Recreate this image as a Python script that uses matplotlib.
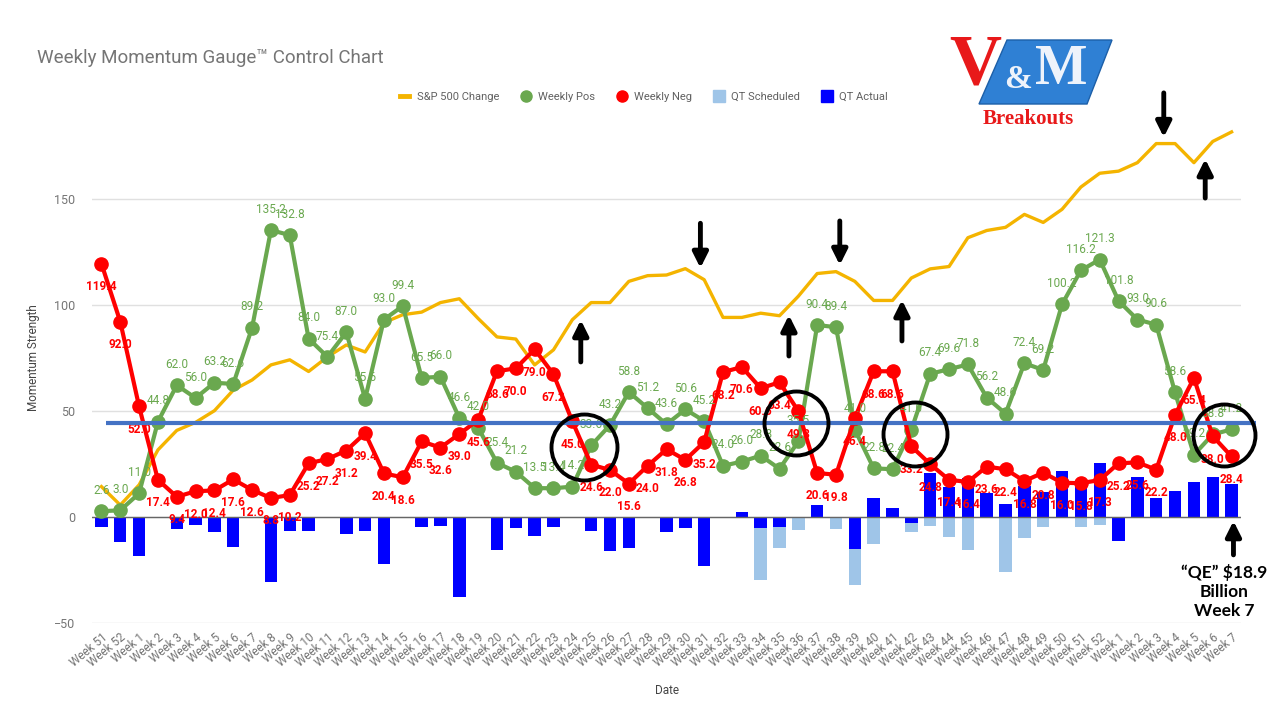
import numpy as np
import matplotlib
matplotlib.use("Agg")
import matplotlib.pyplot as plt
from matplotlib.lines import Line2D
from matplotlib.patches import Polygon

plt.rcParams['font.family'] = ['Roboto', 'DejaVu Sans']

weeks = (["Week 51", "Week 52"] + [f"Week {i}" for i in range(1, 53)]
         + [f"Week {i}" for i in range(1, 8)])

weekly_pos = [2.6, 3.0, 11.0, 44.8, 62.0, 56.0, 63.2, 62.6, 89.2, 135.2,
              132.8, 84.0, 75.4, 87.0, 55.6, 93.0, 99.4, 65.5, 66.0, 46.6,
              42.0, 25.4, 21.2, 13.5, 13.4, 14.2, 33.6, 43.2, 58.8, 51.2,
              43.6, 50.6, 45.2, 24.0, 26.0, 28.8, 22.6, 35.5, 90.4, 89.4,
              41.0, 22.8, 22.4, 41.0, 67.4, 69.6, 71.8, 56.2, 48.6, 72.4,
              69.2, 100.2, 116.2, 121.3, 101.8, 93.0, 90.6, 58.6, 29.2, 38.8,
              41.2]

weekly_neg = [119.4, 92.0, 52.0, 17.4, 9.4, 12.0, 12.4, 17.6, 12.6, 8.8,
              10.2, 25.2, 27.2, 31.2, 39.4, 20.4, 18.6, 35.5, 32.6, 39.0,
              45.6, 68.6, 70.0, 79.0, 67.2, 45.0, 24.6, 22.0, 15.6, 24.0,
              31.8, 26.8, 35.2, 68.2, 70.6, 60.6, 63.4, 49.8, 20.6, 19.8,
              46.4, 68.6, 68.6, 33.2, 24.8, 17.4, 16.4, 23.6, 22.4, 16.8,
              20.8, 16.0, 15.8, 17.3, 25.2, 25.6, 22.2, 48.0, 65.4, 38.0,
              28.4]

sp500_change = [14.2, 5.5, 15.0, 31.5, 40.7, 44.5, 50.0, 59.7, 64.5, 71.6,
                74.0, 68.5, 75.4, 81.0, 77.7, 91.5, 95.3, 96.5, 101.0, 102.8,
                93.5, 84.8, 83.8, 71.6, 78.7, 92.9, 101.0, 101.0, 111.0, 113.7,
                114.0, 117.0, 111.8, 94.0, 94.0, 96.0, 94.8, 104.0, 114.7, 115.6,
                111.0, 102.0, 102.0, 112.6, 116.9, 118.0, 131.6, 135.0, 136.5, 142.6,
                138.8, 145.0, 155.5, 162.0, 163.0, 167.0, 176.0, 176.0, 167.0, 177.0,
                181.5]

qt_actual = [-5.0, -11.8, -18.5, 0, -6.0, -4.1, -7.4, -14.5, 0, -30.8,
             -6.9, -6.9, 0, -8.2, -6.9, -22.3, 0, -5.0, -4.6, -37.7,
             0, -15.9, -5.5, -9.1, -5.0, 0, -6.9, -16.4, -14.9, 0,
             -7.4, -5.5, -23.3, 0, 2.0, -5.5, -5.0, 0, 5.5, 0,
             -15.4, 9.0, 3.9, -2.8, 20.5, 14.2, 18.4, 11.0, 5.8, 14.7,
             11.8, 21.7, 15.7, 25.2, -11.3, 18.6, 9.0, 12.3, 16.5, 18.6,
             15.4]

qt_scheduled = [0, 0, 0, 0, 0, 0, 0, 0, 0, 0,
                0, 0, 0, 0, 0, 0, 0, 0, 0, 0,
                0, 0, 0, 0, 0, 0, 0, 0, 0, 0,
                0, 0, 0, 0, 0, -29.9, -14.9, -6.3, 0, -5.8,
                -32.2, -12.9, 0, -7.2, -4.6, -9.4, -15.7, 0, -25.9, -10.2,
                -5.0, 0, -5.0, -3.9, 0, 0, 0, 0, 0, 0,
                0]

baseline_level = 44.2

GREEN = '#6aa84f'
RED = '#ff0000'
GOLD = '#f4b400'
GRAY = '#757575'

fig = plt.figure(figsize=(12.8, 7.27), dpi=100)
ax = fig.add_axes([92 / 1280, 1 - 622.7 / 727, (1241 - 92) / 1280, (622.7 - 92.7) / 727])

x = np.arange(len(weeks))

ax.bar(x, qt_scheduled, width=0.66, color='#9fc5e8', zorder=2)
ax.bar(x, qt_actual, width=0.66, color='#0000ff', zorder=2.5)
ax.plot(x, sp500_change, color=GOLD, lw=2.4, zorder=3, solid_joinstyle='round')
ax.plot(x, weekly_pos, color=GREEN, lw=3, marker='o', ms=9.5, zorder=4)
ax.plot(x, weekly_neg, color=RED, lw=3, marker='o', ms=9.5, zorder=4.5)

for xi, v in zip(x, weekly_pos):
    ax.annotate(f"{v:.1f}", (xi, v), xytext=(0, 15), textcoords='offset points',
                ha='center', va='center', fontsize=8.5, color=GREEN, zorder=6)
for xi, v in zip(x, weekly_neg):
    ax.annotate(f"{v:.1f}", (xi, v), xytext=(0, -16.5), textcoords='offset points',
                ha='center', va='center', fontsize=8.5, color=RED,
                fontweight='bold', zorder=6)

ax.plot([0.23, 61.3], [baseline_level, baseline_level], color='#4472c4', lw=3,
        zorder=7, clip_on=False, solid_capstyle='butt')

ax.set_xlim(-0.5, len(weeks) - 0.5)
ax.set_ylim(-50, 200)
ax.set_yticks([-50, 0, 50, 100, 150])
ax.set_xticks(x)
ax.set_xticklabels(weeks, rotation=40, ha='right', rotation_mode='anchor',
                   fontsize=8.5, color=GRAY)
ax.tick_params(axis='both', length=0, pad=6)
ax.tick_params(axis='y', labelsize=9, labelcolor=GRAY, pad=12)
ax.grid(axis='y', color='#e0e0e0', lw=1, zorder=0)
ax.axhline(0, color='#666666', lw=1, zorder=2.8)
for s in ax.spines.values():
    s.set_visible(False)
ax.set_ylabel("Momentum Strength", fontsize=8.5, color='#444444', labelpad=10)
ax.set_xlabel("Date", fontsize=8.5, color='#444444', labelpad=10)

fig.text(37 / 1280, 1 - 58 / 727, "Weekly Momentum Gauge\u2122 Control Chart",
         fontsize=13.5, color=GRAY, va='center')

handles = [Line2D([], [], color=GOLD, lw=3.5),
           Line2D([], [], color=GREEN, marker='o', ms=8, ls='none'),
           Line2D([], [], color=RED, marker='o', ms=8, ls='none'),
           Line2D([], [], color='#9fc5e8', marker='s', ms=8, ls='none'),
           Line2D([], [], color='#0000ff', marker='s', ms=8, ls='none')]
labels = ["S&P 500 Change", "Weekly Pos", "Weekly Neg", "QT Scheduled", "QT Actual"]
leg = fig.legend(handles, labels, loc='center', ncol=5, frameon=False,
                 bbox_to_anchor=(644 / 1280, 1 - 97 / 727), fontsize=8,
                 handlelength=0.8, handletextpad=0.7, columnspacing=2.0)
for t in leg.get_texts():
    t.set_color('#616161')

# annotation circles
for cx, cy, r in [(25.6, 33.0, 33), (36.9, 44.2, 32), (43.2, 39.0, 32), (59.6, 38.5, 31)]:
    ax.plot([cx], [cy], marker='o', ms=2 * r / 1.389, mfc='none', mec='black',
            mew=2.8, zorder=8, clip_on=False)

# annotation arrows (x index, tail value, tip value)
arrows = [(25.45, 73.0, 92.8), (31.8, 138.4, 117.3), (36.5, 75.8, 95.1),
          (39.2, 139.5, 118.7), (42.5, 82.9, 102.2), (56.4, 199.9, 179.0),
          (58.6, 150.3, 168.7), (60.1, -18.0, -2.0)]
for ax_x, tail, tip in arrows:
    ax.annotate("", xy=(ax_x, tip), xytext=(ax_x, tail),
                arrowprops=dict(arrowstyle='-|>,head_width=0.45,head_length=0.9',
                                color='black', lw=3.5, shrinkA=0, shrinkB=0),
                zorder=9, annotation_clip=False)

ax.text(59.6, -35.4, "\u201cQE\u201d $18.9\nBillion\nWeek 7", ha='center', va='center',
        fontsize=12.5, fontweight='bold', color='black', family=['Lato', 'DejaVu Sans'],
        linespacing=1.25, zorder=9, clip_on=False)


def px(xp, yp):
    return (xp / 1280, 1 - yp / 727)


logo = Polygon([px(1007, 40), px(1112, 40), px(1087, 104), px(979, 104)],
               closed=True, transform=fig.transFigure, facecolor='#2f80d4',
               edgecolor='#1c5fa8', lw=1, zorder=10)
fig.patches.append(logo)
fig.text(*px(975, 66), "V", fontsize=52, fontweight='bold', color='#e8191a',
         family=['Liberation Serif', 'DejaVu Serif'], ha='center', va='center', zorder=11)
fig.text(*px(1018, 80), "&", fontsize=24, fontweight='bold', color='#eef3fb',
         family=['Liberation Serif', 'DejaVu Serif'], ha='center', va='center', zorder=11)
fig.text(*px(1061, 70), "M", fontsize=40, fontweight='bold', color='#eef3fb',
         family=['Liberation Serif', 'DejaVu Serif'], ha='center', va='center', zorder=11)
fig.text(*px(1028, 119), "Breakouts", fontsize=15, fontweight='bold', color='#e8191a',
         family=['Liberation Serif', 'DejaVu Serif'], ha='center', va='center', zorder=11)

fig.savefig("out.png", dpi=100)
